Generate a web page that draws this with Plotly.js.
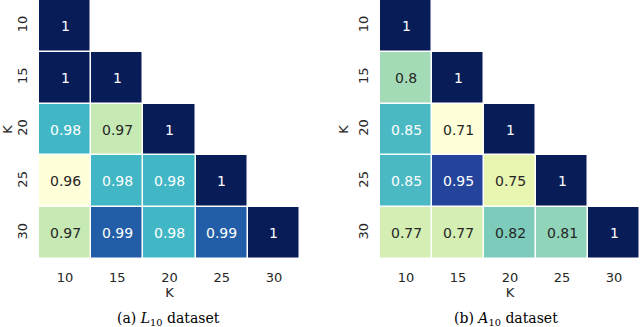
<!DOCTYPE html>
<html>
<head>
<meta charset="utf-8">
<script src="https://cdn.plot.ly/plotly-3.0.1.min.js"></script>
<style>
  html, body { margin: 0; padding: 0; background: #fff; }
  #chart { width: 640px; height: 327px; }
</style>
</head>
<body>
<div id="chart"></div>
<script>
const ks = ['10', '15', '20', '25', '30'];

// lower triangle only, rows are K (y), columns are K (x)
const l10Values = [
    [1, null, null, null, null],
    [1, 1, null, null, null],
    [0.98, 0.97, 1, null, null],
    [0.96, 0.98, 0.98, 1, null],
    [0.97, 0.99, 0.98, 0.99, 1]
];

const a10Values = [
    [1, null, null, null, null],
    [0.8, 1, null, null, null],
    [0.85, 0.71, 1, null, null],
    [0.85, 0.95, 0.75, 1, null],
    [0.77, 0.77, 0.82, 0.81, 1]
];

const captions = ['(a) <i>L</i><sub>10</sub> dataset', '(b) <i>A</i><sub>10</sub> dataset'];

// colorbrewer YlGnBu, same stops matplotlib uses
const ylgnbu = ['#ffffd9', '#edf8b1', '#c7e9b4', '#7fcdbb', '#41b6c4',
                '#1d91c0', '#225ea8', '#253494', '#081d58'];
const colorscale = ylgnbu.map((c, i) => [i / (ylgnbu.length - 1), c]);

function hexToRgb(h) {
    return [1, 3, 5].map(i => parseInt(h.substr(i, 2), 16));
}

function colorAt(t) {
    t = Math.max(0, Math.min(1, t)) * (ylgnbu.length - 1);
    const i = Math.min(Math.floor(t), ylgnbu.length - 2);
    const f = t - i;
    const a = hexToRgb(ylgnbu[i]), b = hexToRgb(ylgnbu[i + 1]);
    return a.map((v, k) => v + (b[k] - v) * f);
}

function luminance(rgb) {
    const lin = rgb.map(v => {
        v = v / 255;
        return v <= 0.03928 ? v / 12.92 : Math.pow((v + 0.055) / 1.055, 2.4);
    });
    return 0.2126 * lin[0] + 0.7152 * lin[1] + 0.0722 * lin[2];
}

function fmt(v) {
    return String(Math.round(v * 100) / 100);
}

const font = 'DejaVu Sans, sans-serif';
const dark = '#262626';

// category axes: annotations take the category index
function cellLabels(values, zmin, zmax, xa, ya) {
    const out = [];
    values.forEach((row, r) => {
        row.forEach((v, c) => {
            if (v === null) return;
            const lum = luminance(colorAt((v - zmin) / (zmax - zmin)));
            out.push({
                x: c, y: r, xref: xa, yref: ya,
                text: fmt(v), showarrow: false,
                font: {family: font, size: 14, color: lum > 0.408 ? dark : '#ffffff'}
            });
        });
    });
    return out;
}

const l10Min = 0.96, l10Max = 1;
const a10Min = 0.71, a10Max = 1;

const data = [{
    type: 'heatmap', x: ks, y: ks, z: l10Values,
    zmin: l10Min, zmax: l10Max, colorscale: colorscale,
    showscale: false, xgap: 1.5, ygap: 1.5,
    xaxis: 'x', yaxis: 'y', hoverinfo: 'skip'
}, {
    type: 'heatmap', x: ks, y: ks, z: a10Values,
    zmin: a10Min, zmax: a10Max, colorscale: colorscale,
    showscale: false, xgap: 1.5, ygap: 1.5,
    xaxis: 'x2', yaxis: 'y2', hoverinfo: 'skip'
}];

function xAxis(domain, anchor) {
    return {
        domain: domain, anchor: anchor, type: 'category',
        range: [-0.5, 4.5], showgrid: false, zeroline: false, showline: false,
        ticks: 'outside', ticklen: 6, tickcolor: 'rgba(0,0,0,0)',
        tickfont: {family: font, size: 13, color: dark},
        title: {text: 'K', font: {family: font, size: 13, color: dark}, standoff: 2}
    };
}

function yAxis(anchor) {
    return {
        domain: [1 - 259 / 327, 1], anchor: anchor, type: 'category',
        range: [4.5, -0.5], showgrid: false, zeroline: false, showline: false,
        ticks: 'outside', ticklen: 6, tickcolor: 'rgba(0,0,0,0)', tickangle: -90,
        tickfont: {family: font, size: 13, color: dark},
        title: {text: 'K', font: {family: font, size: 13, color: dark}, standoff: 4}
    };
}

const captionFont = {family: 'DejaVu Serif, serif', size: 14, color: '#000'};

const layout = {
    width: 640, height: 327,
    margin: {l: 0, r: 0, t: 0, b: 0},
    paper_bgcolor: '#ffffff', plot_bgcolor: '#ffffff',
    showlegend: false,
    xaxis: xAxis([39 / 640, 300 / 640], 'y'),
    yaxis: yAxis('x'),
    xaxis2: xAxis([380 / 640, 1], 'y2'),
    yaxis2: yAxis('x2'),
    annotations: [
        ...cellLabels(l10Values, l10Min, l10Max, 'x', 'y'),
        ...cellLabels(a10Values, a10Min, a10Max, 'x2', 'y2'),
        {text: captions[0], xref: 'paper', yref: 'paper', x: 168 / 640, y: 8 / 327,
         xanchor: 'center', yanchor: 'middle', showarrow: false, font: captionFont},
        {text: captions[1], xref: 'paper', yref: 'paper', x: 506 / 640, y: 8 / 327,
         xanchor: 'center', yanchor: 'middle', showarrow: false, font: captionFont}
    ]
};

Plotly.newPlot('chart', data, layout, {staticPlot: true});
</script>
</body>
</html>
